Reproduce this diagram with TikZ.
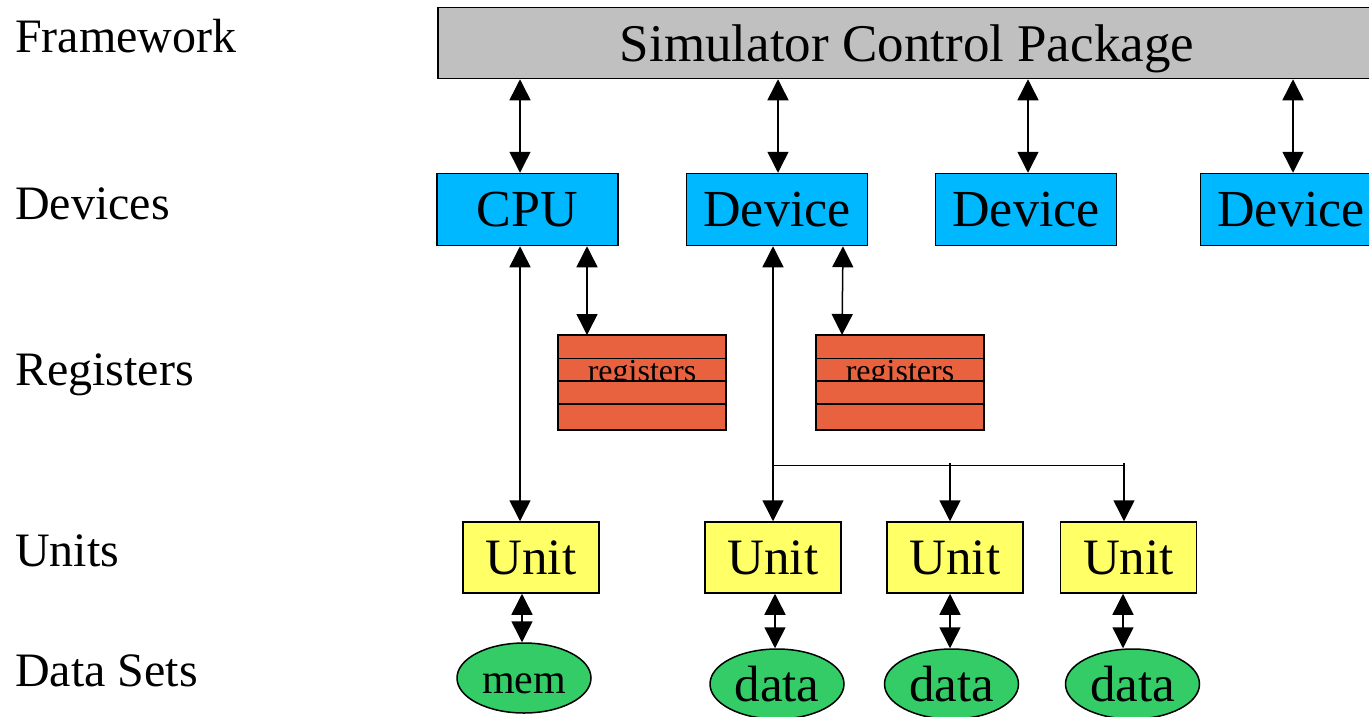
\documentclass[tikz,border=0pt]{standalone}
\usepackage{fontspec}
\setmainfont{Liberation Serif}
\newfontfamily\diagfont{Liberation Serif}
\usetikzlibrary{arrows.meta,shapes.geometric}

\definecolor{simgray}{HTML}{C0C0C0}
\definecolor{devblue}{HTML}{00B8FF}
\definecolor{regred}{HTML}{E96240}
\definecolor{unityellow}{HTML}{FFFF66}
\definecolor{datagreen}{HTML}{33CC66}

\tikzset{
  every node/.append style={font=\diagfont},
  layerlabel/.style={anchor=base west, inner sep=0pt, font=\diagfont\fontsize{48}{56}\selectfont},
  box/.style={draw=black, line width=1.5pt, rectangle, inner sep=0pt},
  simbox/.style={box, fill=simgray, minimum width=938pt, minimum height=71pt,
                 text depth=0pt, font=\diagfont\fontsize{53}{60}\selectfont},
  devbox/.style={box, fill=devblue, minimum width=181pt, minimum height=72pt,
                 font=\diagfont\fontsize{52}{60}\selectfont},
  regbox/.style={box, outer sep=0pt, fill=regred, minimum width=168pt, minimum height=95pt},
  regrow/.style={draw=black, line width=1.5pt, fill=regred},
  regtext/.style={anchor=base, inner sep=0pt, font=\diagfont\fontsize{32}{36}\selectfont},
  unitbox/.style={box, fill=unityellow, minimum width=136pt, minimum height=71pt,
                  font=\diagfont\fontsize{51}{58}\selectfont},
  dataset/.style={draw=black, line width=1.5pt, ellipse, fill=datagreen, inner sep=0pt,
                  minimum width=134pt, minimum height=70pt},
  link/.style={draw=black, line width=1.5pt},
  tip/.tip={Triangle[length=21pt,width=21pt]},
  biarrow/.style={link, tip-tip},
  toarrow/.style={link, -tip}
}

\begin{document}
\begin{tikzpicture}[x=1pt,y=-1pt]
\useasboundingbox (0,0) rectangle (1369,716);
\clip (0,0) rectangle (1369,716);

% layer names
\node[layerlabel] (lfw)  at (15,52)  {Framework};
\node[layerlabel] (ldev) at (15,219) {Devices};
\node[layerlabel] (lreg) at (15,385) {Registers};
\node[layerlabel] (luni) at (15,566) {Units};
\node[layerlabel] (ldat) at (15,686) {Data Sets};

% framework
\node[simbox] (sim) at (907,43) {Simulator Control Package};

% devices
\node[devbox] (cpu)  at (527.5,209.5) {CPU};
\node[devbox] (dev2) at (777,209.5)   {Device};
\node[devbox] (dev3) at (1026,209.5)  {Device};
\node[devbox] (dev4) at (1291,209.5)  {Device};

% register banks: four rows, the label sits in the second row and is cut by the third
\node[regbox] (reg1) at (642,382.5) {};
\node[regbox] (reg2) at (900,382.5) {};
\foreach \r in {reg1,reg2}{
  \draw[link] ([yshift=-23.5pt]\r.north west) -- ([yshift=-23.5pt]\r.north east);
  \node[regtext] at ([yshift=1.5pt]\r.center) {registers};
  \draw[regrow] ([yshift=1.5pt]\r.west) rectangle (\r.south east);
  \draw[link] ([yshift=-21.5pt]\r.west) -- ([yshift=-21.5pt]\r.east);
}

% units
\node[unitbox] (unit1) at (531,557.5)   {Unit};
\node[unitbox] (unit2) at (773,557.5)   {Unit};
\node[unitbox] (unit3) at (955,557.5)   {Unit};
\node[unitbox] (unit4) at (1128.5,557.5) {Unit};

% data sets
\node[dataset, text height=30pt, text depth=0pt,
      font=\diagfont\fontsize{42}{48}\selectfont] (mem) at (524,678) {mem};
\node[dataset, font=\diagfont\fontsize{51}{58}\selectfont] (data1) at (777,684)    {data};
\node[dataset, font=\diagfont\fontsize{51}{58}\selectfont] (data2) at (951.5,684)  {data};
\node[dataset, font=\diagfont\fontsize{51}{58}\selectfont] (data3) at (1132.5,684) {data};

% framework <-> devices
\coordinate (cpuin) at ([xshift=-7.5pt]cpu.north);
\coordinate (d2in)  at ([xshift=1pt]dev2.north);
\coordinate (d3in)  at ([xshift=2pt]dev3.north);
\coordinate (d4in)  at ([xshift=2pt]dev4.north);
\foreach \c in {cpuin,d2in,d3in,d4in}
  \draw[biarrow] (\c |- sim.south) -- (\c);

% devices <-> registers
\coordinate (cpureg) at ([xshift=-55pt]reg1.north);
\draw[biarrow] (cpureg |- cpu.south) -- (cpureg);
\coordinate (d2reg) at ([xshift=-58pt]reg2.north);
\draw[biarrow] ([xshift=1pt]d2reg |- dev2.south) -- (d2reg);

% CPU <-> its unit
\coordinate (cpuunit) at ([xshift=-7.5pt]cpu.south);
\draw[biarrow] (cpuunit) -- (cpuunit |- unit1.north);

% device <-> its units through a bus
\coordinate (d2out) at ([xshift=-4pt]dev2.south);
\draw[biarrow] (d2out) -- (d2out |- unit2.north);
\coordinate (bus) at (773,465.5);
\coordinate (u3in) at ([xshift=-5pt]unit3.north);
\coordinate (u4in) at ([xshift=-4.5pt]unit4.north);
\draw[link] (bus) -- (bus -| u4in);
\draw[toarrow] ([yshift=3pt]u3in |- bus) -- (u3in);
\draw[toarrow] ([yshift=3pt]u4in |- bus) -- (u4in);

% units <-> data sets
\coordinate (u1out) at ([xshift=-9pt]unit1.south);
\coordinate (u2out) at ([xshift=2pt]unit2.south);
\coordinate (u3out) at ([xshift=-5pt]unit3.south);
\coordinate (u4out) at ([xshift=-5.5pt]unit4.south);
\draw[biarrow] (u1out) -- (u1out |- mem.north);
\draw[biarrow] (u2out) -- (u2out |- data1.north);
\draw[biarrow] (u3out) -- (u3out |- data2.north);
\draw[biarrow] (u4out) -- (u4out |- data3.north);
\end{tikzpicture}
\end{document}
